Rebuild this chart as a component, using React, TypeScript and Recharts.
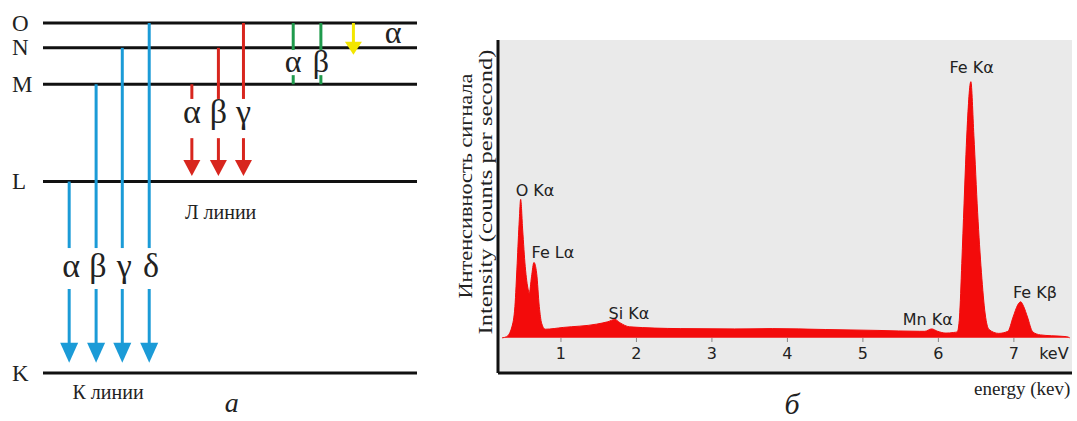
import React from 'react';
import { ComposedChart, Area, Line, XAxis, YAxis, CartesianGrid, ReferenceLine, ReferenceDot } from 'recharts';

// panel а: energy levels (relative units, K = 0, O = 100)
const levelNames = ['K', 'L', 'M', 'N', 'O'];
const levelEnergy = [0, 54.7, 82.5, 92.9, 100];

// K series: L,M,N,O -> K
const kNames = ['α', 'β', 'γ', 'δ'];
const kFrom = ['L', 'M', 'N', 'O'];
const kX = [7.0, 14.2, 21.2, 28.4];
// L series: M,N,O -> L
const lNames = ['α', 'β', 'γ'];
const lFrom = ['M', 'N', 'O'];
const lX = [39.8, 46.9, 53.6];
// M series: O -> M
const mNames = ['α', 'β'];
const mX = [66.9, 74.3];
// N series: O -> N
const nX = [83.0];

// panel б: EDS spectrum
const energyKeV = [
  0.22, 0.28, 0.35, 0.39, 0.42, 0.448, 0.466, 0.493, 0.527, 0.567, 0.58, 0.61, 0.642, 0.678, 0.713, 0.744, 0.79,
  1.03, 1.47, 1.62, 1.715, 1.78, 1.91, 2.58, 3.3, 3.8, 4.5, 5.2, 5.75, 5.82, 5.91, 5.99, 6.1, 6.2, 6.25, 6.28,
  6.31, 6.34, 6.38, 6.43, 6.47, 6.52, 6.57, 6.62, 6.67, 6.8, 6.92, 6.99, 7.05, 7.09, 7.13, 7.18, 7.25, 7.35, 7.5,
  7.7, 7.74,
];
const counts = [
  0, 4, 37, 105, 250, 396, 465, 362, 239, 161, 150, 205, 253, 217, 105, 49, 29,
  35, 46, 54, 62, 51, 37, 31, 30, 31, 28, 25, 22, 22, 30, 22, 16, 18, 20, 70,
  250, 450, 700, 860, 680, 420, 220, 80, 28, 15, 22, 70, 110, 121, 105, 70, 20, 10, 7,
  4, 0,
];
const xTicks = [1, 2, 3, 4, 5, 6, 7];
const peakNames = ['O Kα', 'Fe Lα', 'Si Kα', 'Mn Kα', 'Fe Kα', 'Fe Kβ'];
const peakKeV = [0.656, 0.894, 1.9, 5.86, 6.44, 7.28];
const peakCounts = [496, 285, 83, 60, 906, 151];

const spectrum = energyKeV.map((e, i) => ({ e, c: counts[i] }));
// each level drawn as a horizontal line across the diagram
const levelRows = [0, 100].map((x) => {
  const row: any = { x };
  levelNames.forEach((n, i) => (row[n] = levelEnergy[i]));
  return row;
});
const lv = (n: string) => levelEnergy[levelNames.indexOf(n)];

const serif = '"Liberation Serif", "DejaVu Serif", serif';
const sans = '"DejaVu Sans", sans-serif';

const BLUE = '#1b9bd7';
const RED = '#d8261e';
const GREEN = '#1f9a4c';
const YELLOW = '#f3e600';

const arrow = (color: string, head?: { len: number; w: number }) => (p: any) => {
  const { x1, y1, x2, y2 } = p;
  if (!head) return <line x1={x1} y1={y1} x2={x2} y2={y2} stroke={color} strokeWidth={3} />;
  const yb = y2 - head.len;
  return (
    <g>
      <line x1={x1} y1={y1} x2={x2} y2={yb + 1} stroke={color} strokeWidth={3} />
      <polygon points={`${x2 - head.w / 2},${yb} ${x2 + head.w / 2},${yb} ${x2},${y2}`} fill={color} />
    </g>
  );
};

const txt = (value: string, size: number, opts: any = {}) => (p: any) => (
  <text
    x={p.cx}
    y={p.cy}
    textAnchor={opts.anchor || 'middle'}
    dominantBaseline={opts.baseline || 'alphabetic'}
    fontFamily={opts.family || serif}
    fontStyle={opts.italic ? 'italic' : 'normal'}
    fontSize={size}
    fill={opts.fill || '#222'}
  >
    {value}
  </text>
);

function Levels() {
  return (
    <ComposedChart width={440} height={421} data={levelRows} margin={{ top: 23, right: 23, bottom: 48, left: 0 }}>
      <XAxis type="number" dataKey="x" domain={[0, 100]} hide />
      <YAxis
        type="number"
        domain={[0, 100]}
        ticks={levelEnergy}
        width={43}
        axisLine={false}
        tickLine={false}
        tick={(p: any) => (
          <text x={12} y={p.y} dominantBaseline="central" fontFamily={serif} fontSize={23} fill="#222">
            {levelNames[levelEnergy.indexOf(p.payload.value)]}
          </text>
        )}
      />
      {levelNames.map((n) => (
        <Line key={n} dataKey={n} stroke="#111" strokeWidth={3} dot={false} activeDot={false} isAnimationActive={false} />
      ))}

      {kX.map((x, i) => (
        <ReferenceLine key={'k1' + i} segment={[{ x, y: lv(kFrom[i]) }, { x, y: 35.7 }]} shape={arrow(BLUE)} />
      ))}
      {kX.map((x, i) => (
        <ReferenceLine key={'k2' + i} segment={[{ x, y: 24 }, { x, y: 2.9 }]} shape={arrow(BLUE, { len: 20, w: 18 })} />
      ))}
      {kX.map((x, i) => (
        <ReferenceDot key={'kt' + i} x={x + 0.5} y={27.4} shape={txt(kNames[i], 34)} />
      ))}

      {lX.map((x, i) => (
        <ReferenceLine key={'l1' + i} segment={[{ x, y: lv(lFrom[i]) }, { x, y: 78.3 }]} shape={arrow(RED)} />
      ))}
      {lX.map((x, i) => (
        <ReferenceLine key={'l2' + i} segment={[{ x, y: 67.1 }, { x, y: 56.3 }]} shape={arrow(RED, { len: 16, w: 17 })} />
      ))}
      {lX.map((x, i) => (
        <ReferenceDot key={'lt' + i} x={x} y={71.4} shape={txt(lNames[i], 34)} />
      ))}

      {mX.map((x, i) => (
        <ReferenceLine key={'m1' + i} segment={[{ x, y: lv('O') }, { x, y: 92.3 }]} shape={arrow(GREEN)} />
      ))}
      {mX.map((x, i) => (
        <ReferenceLine key={'m2' + i} segment={[{ x, y: 85.1 }, { x, y: lv('M') }]} shape={arrow(GREEN)} />
      ))}
      {mX.map((x, i) => (
        <ReferenceDot key={'mt' + i} x={x} y={86.0} shape={txt(mNames[i], 32)} />
      ))}

      {nX.map((x, i) => (
        <ReferenceLine key={'n1' + i} segment={[{ x, y: lv('O') }, { x, y: 90.9 }]} shape={arrow(YELLOW, { len: 13, w: 17 })} />
      ))}
      <ReferenceDot x={93.6} y={94.3} shape={txt('α', 32)} />

      <ReferenceDot x={47.5} y={46} ifOverflow="visible" shape={txt('Л линии', 20, { baseline: 'central' })} />
      <ReferenceDot x={17.4} y={-5.4} ifOverflow="visible" shape={txt('К линии', 20, { baseline: 'central' })} />
      <ReferenceDot x={50.5} y={-8.3} ifOverflow="visible" shape={txt('а', 28, { baseline: 'central', italic: true })} />
    </ComposedChart>
  );
}

const YLabel = (p: any) => {
  const { x } = p.viewBox;
  const rows = [
    { t: 'Интенсивность сигнала', dx: 25, cy: 186, len: 225 },
    { t: 'Intensity (counts per second)', dx: 45, cy: 192, len: 285 },
  ];
  return (
    <g fontFamily={serif} fontSize={19} fill="#222">
      {rows.map((r) => (
        <text
          key={r.t}
          x={x + r.dx}
          y={r.cy}
          textAnchor="middle"
          dominantBaseline="central"
          textLength={r.len}
          lengthAdjust="spacingAndGlyphs"
          transform={`rotate(-90 ${x + r.dx} ${r.cy})`}
        >
          {r.t}
        </text>
      ))}
    </g>
  );
};

function Spectrum() {
  return (
    <ComposedChart width={637} height={421} data={spectrum} margin={{ top: 40, right: 5, bottom: 0, left: 0 }}>
      <CartesianGrid horizontal={false} vertical={false} fill="#eaeaea" />
      <XAxis
        type="number"
        dataKey="e"
        domain={[0.166, 7.77]}
        ticks={xTicks}
        allowDataOverflow
        height={48}
        axisLine={{ stroke: '#111', strokeWidth: 3 }}
        tickLine={false}
        tickSize={0}
        tickMargin={0}
        tick={(p: any) => (
          <g>
            <line x1={p.x} x2={p.x} y1={p.y - 35} y2={p.y - 31} stroke="#888" strokeWidth={1} />
            <text x={p.x} y={p.y - 20} textAnchor="middle" dominantBaseline="central" fontFamily={sans} fontSize={16} fill="#222">
              {p.payload.value}
            </text>
          </g>
        )}
      />
      <YAxis
        type="number"
        domain={[-118, 1000]}
        width={58}
        tick={false}
        tickLine={false}
        axisLine={{ stroke: '#111', strokeWidth: 3 }}
        label={{ content: YLabel }}
      />
      <Area
        type="monotone"
        dataKey="c"
        baseValue={0}
        stroke="#f30b0b"
        strokeWidth={1}
        fill="#f30b0b"
        fillOpacity={1}
        isAnimationActive={false}
      />
      {peakNames.map((n, i) => (
        <ReferenceDot key={n} x={peakKeV[i]} y={peakCounts[i]} shape={txt(n, 16, { family: sans, baseline: 'central' })} />
      ))}
      <ReferenceDot x={7.53} y={-51} shape={txt('keV', 16, { family: sans, baseline: 'central' })} />
      <ReferenceDot x={7.11} y={-169} ifOverflow="visible" shape={txt('energy (kev)', 19, { baseline: 'central' })} />
      <ReferenceDot x={4.06} y={-222} ifOverflow="visible" shape={txt('б', 30, { baseline: 'central', italic: true })} />
    </ComposedChart>
  );
}

export default function App() {
  return (
    <div style={{ position: 'absolute', left: 0, top: 0, width: 1077, height: 421, background: '#fff' }}>
      <div style={{ position: 'absolute', left: 0, top: 0 }}>
        <Levels />
      </div>
      <div style={{ position: 'absolute', left: 440, top: 0 }}>
        <Spectrum />
      </div>
    </div>
  );
}
